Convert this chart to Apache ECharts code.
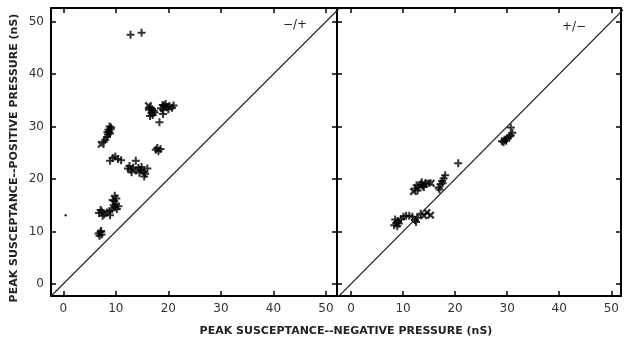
<!DOCTYPE html>
<html>
<head>
<meta charset="utf-8">
<script src="https://cdn.jsdelivr.net/npm/echarts@6/dist/echarts.min.js"></script>
<style>
  html, body { margin: 0; padding: 0; background: #fff; }
  #chart { width: 624px; height: 341px; }
</style>
</head>
<body>
<div id="chart"></div>
<script>
// Peak susceptance (nS): x = negative pressure, y = positive pressure.
// Left panel: "-/+" sequence, right panel: "+/-" sequence.
const leftPlus = [
  [12.8, 47.5], [14.9, 47.9],
  [8.8, 30.0], [9.0, 29.5], [8.7, 29.0], [8.5, 28.5], [8.3, 28.0], [8.0, 27.5], [7.7, 27.1],
  [9.1, 29.8], [8.9, 28.7], [8.6, 29.4], [8.4, 28.9],
  [8.9, 23.5], [9.4, 24.0], [9.9, 24.3], [10.4, 23.8], [11.0, 23.6],
  [12.3, 22.0], [12.8, 21.8], [13.3, 22.2], [13.8, 21.6], [14.3, 22.1], [14.8, 21.7], [15.3, 21.4],
  [15.6, 21.0], [15.4, 20.5], [14.9, 22.3], [16.0, 22.0], [13.0, 21.3], [12.6, 22.5], [14.5, 21.2], [13.8, 23.5],
  [6.8, 13.5], [7.3, 13.8], [7.8, 13.3], [8.3, 13.6], [8.8, 13.9], [9.3, 14.2], [9.8, 14.6], [10.2, 14.3],
  [10.0, 15.2], [9.7, 15.8], [10.1, 16.3], [9.8, 16.8], [9.4, 16.0], [8.9, 13.1], [7.5, 13.0], [10.5, 14.8],
  [9.6, 15.0], [7.1, 14.1],
  [6.7, 9.6], [7.1, 9.9], [7.3, 9.4], [6.9, 9.2], [7.2, 10.1],
  [16.3, 33.2], [16.8, 32.6], [17.2, 33.0], [16.6, 33.6], [17.0, 32.2], [16.5, 32.0], [17.4, 32.7], [16.9, 33.3],
  [18.6, 33.5], [19.2, 34.0], [19.7, 33.7], [20.2, 33.9], [20.7, 33.6], [21.0, 34.0], [19.0, 33.2], [20.0, 33.3],
  [19.5, 34.3], [18.9, 34.1],
  [19.0, 32.4], [18.3, 30.8],
  [17.6, 25.6], [18.1, 25.3], [18.5, 25.7], [17.9, 25.9]
];
const leftCross = [[7.2, 26.6], [16.2, 34.0]];
const leftDot = [[0.45, 13.1]];

const rightPlus = [
  [8.3, 11.2], [8.7, 11.6], [9.0, 12.0], [8.5, 12.3], [9.2, 11.5], [8.9, 11.0], [9.6, 12.4], [10.1, 12.8],
  [10.6, 13.0], [11.2, 13.0], [11.8, 12.8], [12.3, 12.2], [12.7, 12.6], [12.5, 11.8], [13.4, 13.4],
  [12.3, 18.2], [12.6, 18.8], [13.0, 18.4], [13.4, 19.0], [13.8, 18.7], [14.3, 19.1], [12.8, 17.8],
  [13.6, 19.4], [14.0, 18.5],
  [16.8, 18.4], [17.2, 19.0], [17.5, 19.6], [17.8, 20.1], [18.1, 20.7], [17.0, 18.0], [17.6, 19.2],
  [20.6, 23.0],
  [29.0, 27.2], [29.5, 27.5], [30.0, 27.8], [30.4, 28.1], [29.3, 27.0], [29.8, 27.3], [30.7, 28.3],
  [30.7, 29.8], [31.0, 28.8]
];
const rightCross = [[14.0, 13.0], [14.6, 13.6], [15.3, 13.1], [12.0, 17.6], [14.8, 19.3], [15.4, 19.2]];

// Line of identity (y = x), clipped to each panel
const identity = [[-5, -5], [60, 60]];

const panelTags = ['\u2212/+', '+/\u2212'];
const xTitle = 'PEAK SUSCEPTANCE--NEGATIVE PRESSURE (nS)';
const yTitle = 'PEAK SUSCEPTANCE--POSITIVE PRESSURE (nS)';

const PLUS = 'path://M3,0H5V3H8V5H5V8H3V5H0V3H3Z';
const FONT = '"DejaVu Sans", Verdana, sans-serif';

const tenLabel = function (v) {
  const r = Math.round(v / 10) * 10;
  return Math.abs(v - r) < 1e-6 ? String(r) : '';
};

const lineStyle = { color: '#000', width: 2 };
const tickStyle = { color: '#000', width: 1.5 };

function xAxis(grid, min, max, pos, labels) {
  return {
    gridIndex: grid, type: 'value', min: min, max: max, position: pos,
    axisLine: { show: true, onZero: false, lineStyle: lineStyle },
    axisTick: { show: true, inside: true, length: 5, lineStyle: tickStyle },
    axisLabel: { show: labels, formatter: tenLabel, fontSize: 12, color: '#333', fontFamily: FONT, margin: 7 },
    splitLine: { show: false }
  };
}
function yAxis(grid, pos, labels) {
  return {
    gridIndex: grid, type: 'value', min: -2.3, max: 52.6, position: pos,
    axisLine: { show: true, onZero: false, lineStyle: lineStyle },
    axisTick: { show: true, inside: true, length: 5, lineStyle: tickStyle },
    axisLabel: { show: labels, formatter: tenLabel, fontSize: 12, color: '#333', fontFamily: FONT, margin: 7 },
    splitLine: { show: false }
  };
}

function scatter(data, x, y, symbol, size, rotate) {
  return {
    type: 'scatter', xAxisIndex: x, yAxisIndex: y, data: data,
    symbol: symbol, symbolSize: size, symbolRotate: rotate || 0,
    itemStyle: { color: '#000' }, silent: true
  };
}

const chart = echarts.init(document.getElementById('chart'), null, { renderer: 'canvas' });
chart.setOption({
  animation: false,
  backgroundColor: '#fff',
  grid: [
    { left: 51, top: 8, width: 286, height: 288 },
    { left: 337, top: 8, width: 285, height: 288 }
  ],
  xAxis: [
    xAxis(0, -2.34, 52.1, 'bottom', true),
    xAxis(0, -2.34, 52.1, 'top', false),
    xAxis(1, -2.68, 51.86, 'bottom', true),
    xAxis(1, -2.68, 51.86, 'top', false)
  ],
  yAxis: [
    yAxis(0, 'left', true),
    yAxis(0, 'right', false),
    yAxis(1, 'left', false),
    yAxis(1, 'right', false)
  ],
  series: [
    { type: 'line', xAxisIndex: 0, yAxisIndex: 0, data: identity, symbol: 'none', clip: true,
      lineStyle: { color: '#222', width: 1.2 }, silent: true },
    { type: 'line', xAxisIndex: 2, yAxisIndex: 2, data: identity, symbol: 'none', clip: true,
      lineStyle: { color: '#222', width: 1.2 }, silent: true },
    scatter(leftPlus, 0, 0, PLUS, 8),
    scatter(leftCross, 0, 0, PLUS, 9, 45),
    scatter(leftDot, 0, 0, 'circle', 2.5),
    scatter(rightPlus, 2, 2, PLUS, 8),
    scatter(rightCross, 2, 2, PLUS, 9, 45)
  ],
  graphic: [
    { type: 'text', left: 283, top: 19, style: { text: panelTags[0], font: '12px ' + FONT, fill: '#222' } },
    { type: 'text', left: 562, top: 21, style: { text: panelTags[1], font: '12px ' + FONT, fill: '#222' } },
    { type: 'text', x: 346, y: 331,
      style: { text: xTitle, font: 'bold 11px ' + FONT, fill: '#222', align: 'center', verticalAlign: 'middle' } },
    { type: 'text', x: 14, y: 158, rotation: Math.PI / 2,
      style: { text: yTitle, font: 'bold 11px ' + FONT, fill: '#222', align: 'center', verticalAlign: 'middle' } }
  ]
});
</script>
</body>
</html>
